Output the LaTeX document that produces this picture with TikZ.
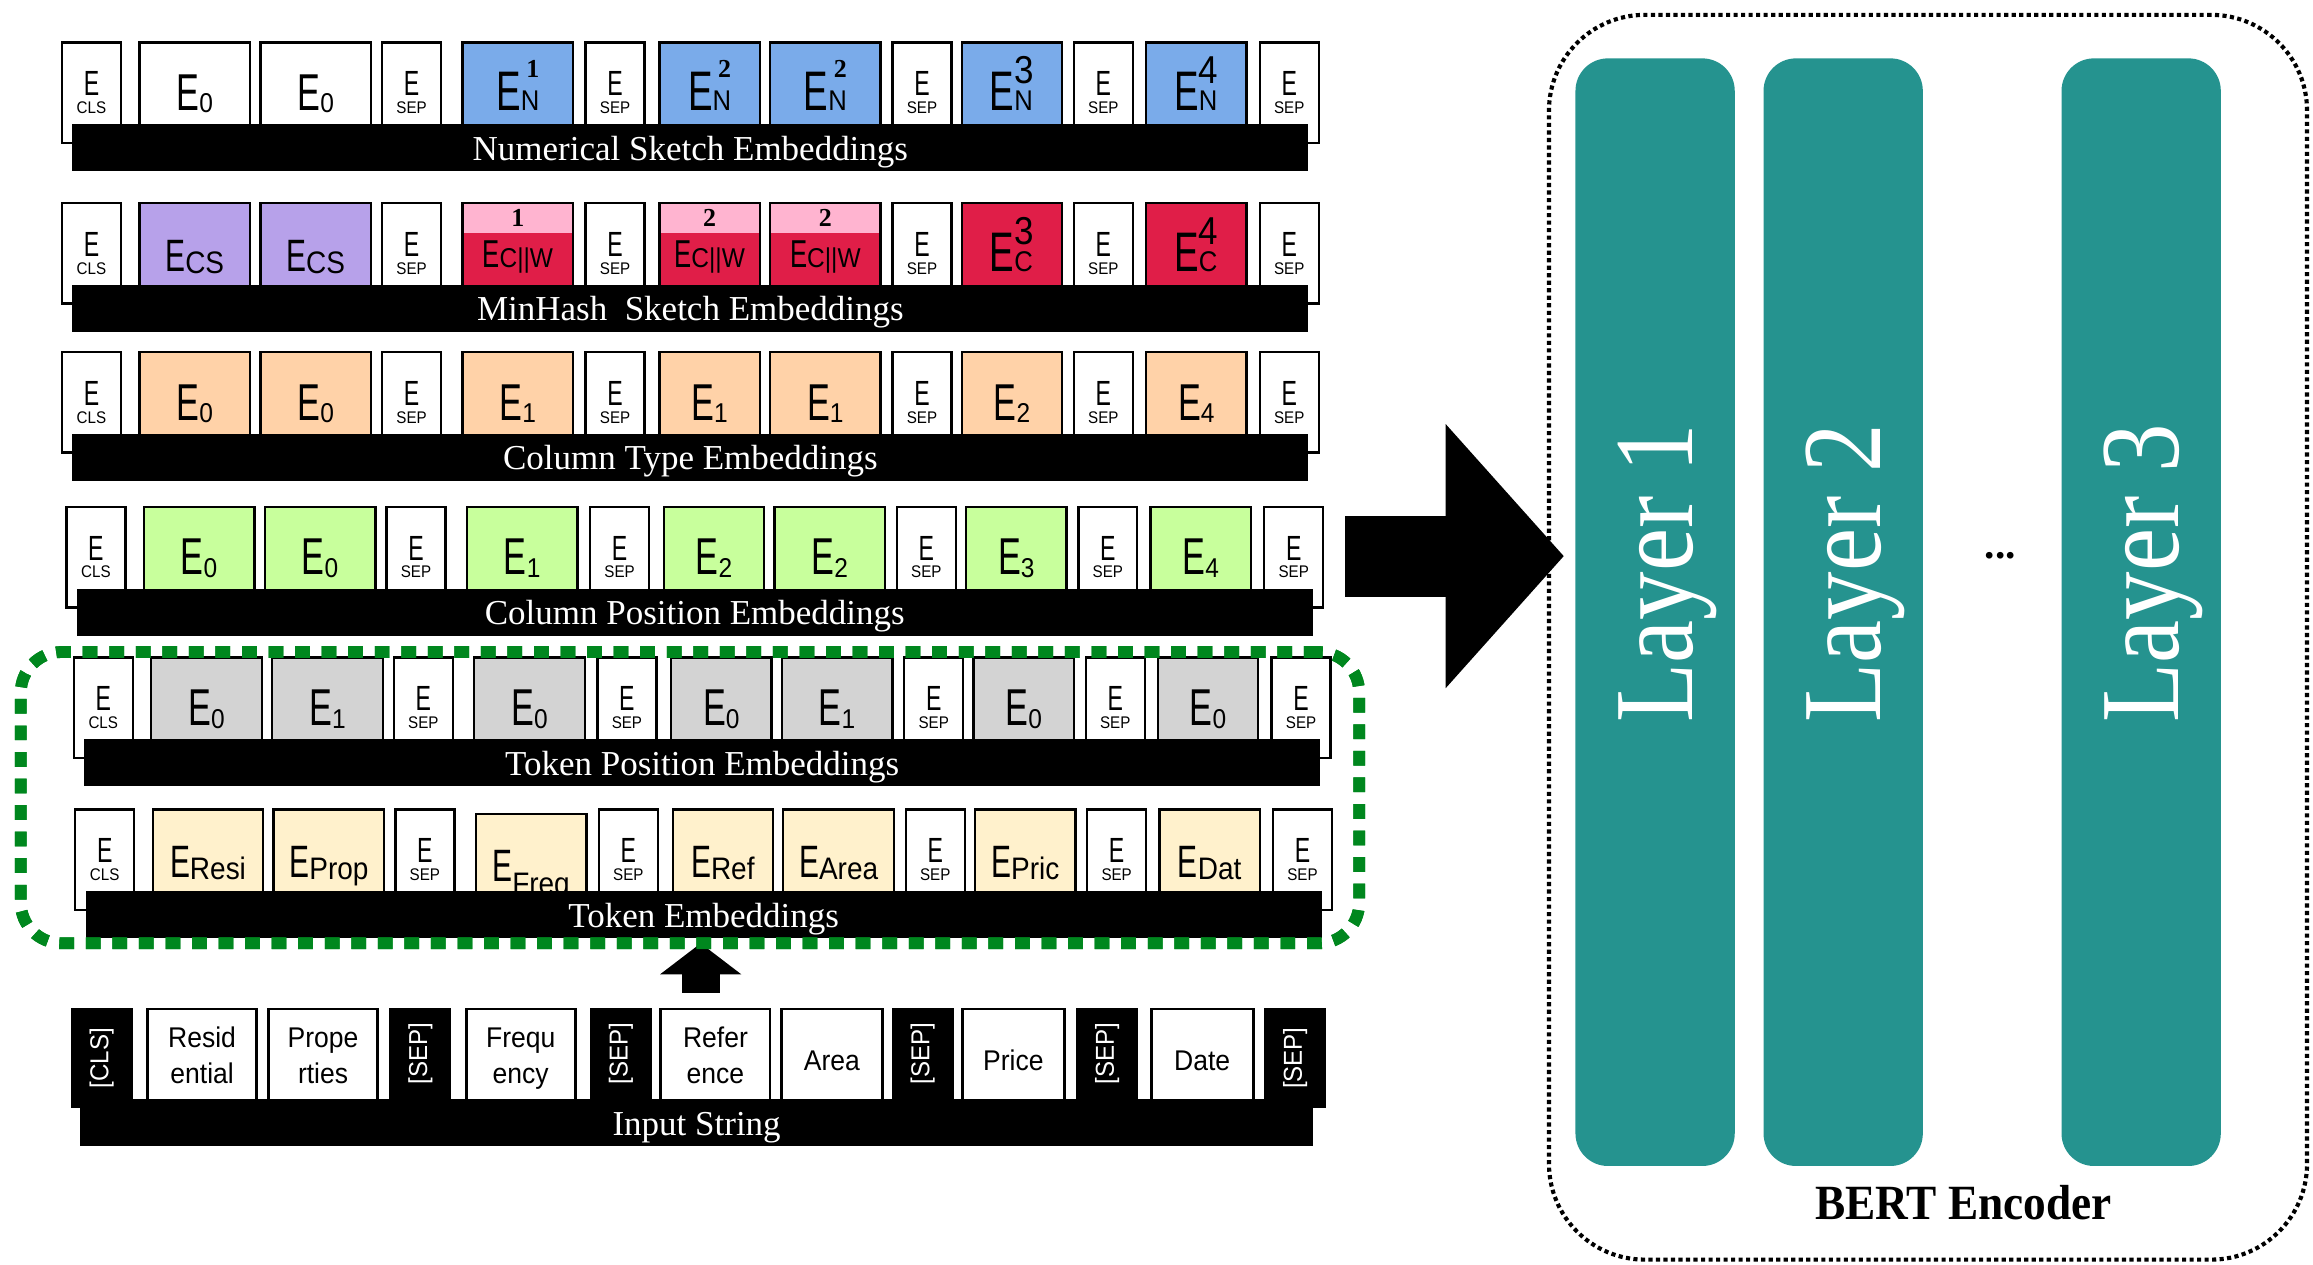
\documentclass[tikz,border=0pt]{standalone}
\usepackage{graphicx}
\usepackage{fontspec}
\setmainfont{Liberation Serif}
\newfontfamily\efont{Liberation Sans}[FakeStretch=0.66]
\newfontfamily\subfont{Liberation Sans}[FakeStretch=0.9]
\newfontfamily\inpfont{Liberation Sans}[FakeStretch=0.93]
\newfontfamily\bertfont{Liberation Serif}[FakeStretch=0.92]
\newfontfamily\layerfont{Liberation Serif}[FakeStretch=0.86]
\usetikzlibrary{arrows.meta, positioning}

\definecolor{numblue}{RGB}{122,171,234}
\definecolor{cspurple}{RGB}{183,161,234}
\definecolor{mhpink}{RGB}{255,180,208}
\definecolor{mhred}{RGB}{224,30,72}
\definecolor{typepeach}{RGB}{255,210,168}
\definecolor{poslime}{RGB}{200,255,156}
\definecolor{tokgrey}{RGB}{211,211,211}
\definecolor{tokcream}{RGB}{255,241,204}
\definecolor{grpgreen}{RGB}{0,135,30}
\definecolor{layerteal}{RGB}{37,147,143}

\newcommand{\tk}[1]{\makebox[0pt]{\raisebox{0.2cm}{\efont\fontsize{13.5}{13.5}\selectfont E}}\makebox[0pt]{\raisebox{-0.04cm}{\subfont\fontsize{6.5}{6.5}\selectfont #1}}}
\newcommand{\ee}[1]{{\efont\fontsize{20}{20}\selectfont E}\raisebox{-1pt}{\subfont\fontsize{10.5}{10.5}\selectfont #1}}
\newcommand{\et}[1]{{\efont\fontsize{17.5}{17.5}\selectfont E}\raisebox{-1pt}{\subfont\fontsize{12}{12}\selectfont #1}}
\newcommand{\etl}[1]{{\efont\fontsize{17.5}{17.5}\selectfont E}\raisebox{-5pt}{\subfont\fontsize{12}{12}\selectfont #1}}
\newcommand{\en}[2]{{\efont\fontsize{21.5}{21.5}\selectfont E}\ooalign{\hfil\raisebox{0.45cm}{\rmfamily\bfseries\fontsize{10}{10}\selectfont #2}\cr{\subfont\fontsize{11}{11}\selectfont #1}\cr}}
\newcommand{\ens}[2]{{\efont\fontsize{21.5}{21.5}\selectfont E}\ooalign{\hfil\raisebox{0.36cm}{\subfont\fontsize{15}{15}\selectfont #2}\cr{\subfont\fontsize{11}{11}\selectfont #1}\cr}}
\newcommand{\ecw}[1]{\ooalign{\hfil\raisebox{0.6cm}{\rmfamily\bfseries\fontsize{10}{10}\selectfont #1}\hfil\cr\raisebox{0.05cm}{{\efont\fontsize{15}{15}\selectfont E}{\subfont\fontsize{10.5}{10.5}\selectfont C\textbar\textbar W}}\cr}}

\begin{document}
\begin{tikzpicture}[
    x=0.02cm, y=-0.02cm,
    cell/.style={
        draw=black, line width=0.9pt, fill=white, anchor=north, minimum height=1.12cm,
        inner sep=1pt, text height=0.78cm, text depth=0.06cm
    },
    tall/.style={minimum height=1.36cm, text depth=0.3cm},
    nar/.style={cell, minimum width=0.8cm},
    wid/.style={cell, minimum width=1.5cm},
    mid/.style={cell, minimum width=1.36cm},
    split/.style={
        fill=mhred,
        path picture={\fill[mhpink] (path picture bounding box.north west) rectangle ([yshift=-0.4cm]path picture bounding box.north east);}
    },
    bar/.style={
        fill=black, text=white, minimum width=16.76cm, minimum height=0.64cm, inner sep=0pt,
        text height=0.34cm, text depth=0pt, font=\fontsize{13.5}{13.5}\selectfont
    },
    blk/.style={
        fill=black, text=white, anchor=north, minimum width=0.84cm, minimum height=1.24cm,
        inner sep=0pt, font=\inpfont\fontsize{10}{10}\selectfont
    },
    btall/.style={minimum height=1.36cm},
    inw/.style={
        draw=black, line width=1.1pt, fill=white, anchor=north, minimum width=1.48cm,
        minimum height=1.24cm, inner sep=1pt, align=center, text height=22pt, text depth=0pt,
        font=\inpfont\fontsize{11}{13.6}\selectfont
    },
    inm/.style={inw, minimum width=1.38cm, text height=12pt, text depth=0pt},
    grpbox/.style={
        draw=grpgreen, line width=0.16cm, dash pattern=on 0.2cm off 0.16cm, rounded corners=0.55cm,
        minimum width=18.15cm, minimum height=3.95cm, outer sep=0pt
    },
    bertbox/.style={
        draw=black, line width=1.6pt, dash pattern=on 1.6pt off 1.3pt, rounded corners=1.3cm,
        minimum width=10.28cm, minimum height=16.88cm, outer sep=0pt
    },
    layer/.style={
        fill=layerteal, rounded corners=0.44cm, minimum width=15.02cm, minimum height=2.16cm,
        rotate=90, text=white, inner sep=0pt, text height=1.02cm, text depth=0pt,
        font=\layerfont\fontsize{43.5}{43.5}\selectfont
    },
    bigarrow/.style={
        -{Triangle[width=3.58cm, length=1.6cm, line width=0pt]}, line width=1.1cm, black,
        shorten >=-0.2cm
    },
    uparrow/.style={
        -{Triangle[width=1.1cm, length=0.42cm, line width=0pt]}, line width=0.52cm, black
    }
]
\useasboundingbox (0,0) rectangle (1568,857);

\node[nar, tall] (num1) at (62,28) {\tk{CLS}};
\node[wid] (num2) at (132,28) {\ee{0}};
\node[wid] (num3) at (214,28) {\ee{0}};
\node[nar] (num4) at (279,28) {\tk{SEP}};
\node[wid, fill=numblue] (num5) at (351,28) {\en{N}{1}};
\node[nar] (num6) at (417,28) {\tk{SEP}};
\node[mid, fill=numblue] (num7) at (481,28) {\en{N}{2}};
\node[wid, fill=numblue] (num8) at (559.5,28) {\en{N}{2}};
\node[nar] (num9) at (625,28) {\tk{SEP}};
\node[mid, fill=numblue] (num10) at (686,28) {\ens{N}{3}};
\node[nar] (num11) at (748,28) {\tk{SEP}};
\node[mid, fill=numblue] (num12) at (811,28) {\ens{N}{4}};
\node[nar, tall] (num13) at (874,28) {\tk{SEP}};
\node[bar] (numbar) at (468,100) {Numerical Sketch Embeddings};

\node[nar, tall] (mh1) at (62,137) {\tk{CLS}};
\node[wid, fill=cspurple] (mh2) at (132,137) {\et{CS}};
\node[wid, fill=cspurple] (mh3) at (214,137) {\et{CS}};
\node[nar] (mh4) at (279,137) {\tk{SEP}};
\node[wid, split] (mh5) at (351,137) {\ecw{1}};
\node[nar] (mh6) at (417,137) {\tk{SEP}};
\node[mid, split] (mh7) at (481,137) {\ecw{2}};
\node[wid, split] (mh8) at (559.5,137) {\ecw{2}};
\node[nar] (mh9) at (625,137) {\tk{SEP}};
\node[mid, fill=mhred] (mh10) at (686,137) {\ens{C}{3}};
\node[nar] (mh11) at (748,137) {\tk{SEP}};
\node[mid, fill=mhred] (mh12) at (811,137) {\ens{C}{4}};
\node[nar, tall] (mh13) at (874,137) {\tk{SEP}};
\node[bar] (mhbar) at (468,209) {MinHash\ \ Sketch Embeddings};

\node[nar, tall] (ctype1) at (62,238) {\tk{CLS}};
\node[wid, fill=typepeach] (ctype2) at (132,238) {\ee{0}};
\node[wid, fill=typepeach] (ctype3) at (214,238) {\ee{0}};
\node[nar] (ctype4) at (279,238) {\tk{SEP}};
\node[wid, fill=typepeach] (ctype5) at (351,238) {\ee{1}};
\node[nar] (ctype6) at (417,238) {\tk{SEP}};
\node[mid, fill=typepeach] (ctype7) at (481,238) {\ee{1}};
\node[wid, fill=typepeach] (ctype8) at (559.5,238) {\ee{1}};
\node[nar] (ctype9) at (625,238) {\tk{SEP}};
\node[mid, fill=typepeach] (ctype10) at (686,238) {\ee{2}};
\node[nar] (ctype11) at (748,238) {\tk{SEP}};
\node[mid, fill=typepeach] (ctype12) at (811,238) {\ee{4}};
\node[nar, tall] (ctype13) at (874,238) {\tk{SEP}};
\node[bar] (ctypebar) at (468,310) {Column Type Embeddings};

\begin{scope}[xshift=0.06cm]
\node[nar, tall] (cpos1) at (62,343) {\tk{CLS}};
\node[wid, fill=poslime] (cpos2) at (132,343) {\ee{0}};
\node[wid, fill=poslime] (cpos3) at (214,343) {\ee{0}};
\node[nar] (cpos4) at (279,343) {\tk{SEP}};
\node[wid, fill=poslime] (cpos5) at (351,343) {\ee{1}};
\node[nar] (cpos6) at (417,343) {\tk{SEP}};
\node[mid, fill=poslime] (cpos7) at (481,343) {\ee{2}};
\node[wid, fill=poslime] (cpos8) at (559.5,343) {\ee{2}};
\node[nar] (cpos9) at (625,343) {\tk{SEP}};
\node[mid, fill=poslime] (cpos10) at (686,343) {\ee{3}};
\node[nar] (cpos11) at (748,343) {\tk{SEP}};
\node[mid, fill=poslime] (cpos12) at (811,343) {\ee{4}};
\node[nar, tall] (cpos13) at (874,343) {\tk{SEP}};
\node[bar] (cposbar) at (468,415) {Column Position Embeddings};
\end{scope}

\begin{scope}[xshift=0.16cm]
\node[nar, tall] (tpos1) at (62,445) {\tk{CLS}};
\node[wid, fill=tokgrey] (tpos2) at (132,445) {\ee{0}};
\node[wid, fill=tokgrey] (tpos3) at (214,445) {\ee{1}};
\node[nar] (tpos4) at (279,445) {\tk{SEP}};
\node[wid, fill=tokgrey] (tpos5) at (351,445) {\ee{0}};
\node[nar] (tpos6) at (417,445) {\tk{SEP}};
\node[mid, fill=tokgrey] (tpos7) at (481,445) {\ee{0}};
\node[wid, fill=tokgrey] (tpos8) at (559.5,445) {\ee{1}};
\node[nar] (tpos9) at (625,445) {\tk{SEP}};
\node[mid, fill=tokgrey] (tpos10) at (686,445) {\ee{0}};
\node[nar] (tpos11) at (748,445) {\tk{SEP}};
\node[mid, fill=tokgrey] (tpos12) at (811,445) {\ee{0}};
\node[nar, tall] (tpos13) at (874,445) {\tk{SEP}};
\node[bar] (tposbar) at (468,517) {Token Position Embeddings};
\end{scope}

\begin{scope}[xshift=0.18cm]
\node[nar, tall] (tok1) at (62,548) {\tk{CLS}};
\node[wid, fill=tokcream] (tok2) at (132,548) {\et{Resi}};
\node[wid, fill=tokcream] (tok3) at (214,548) {\et{Prop}};
\node[nar] (tok4) at (279,548) {\tk{SEP}};
\node[wid, fill=tokcream] (tok5) at (351,551) {\etl{Freq}};
\node[nar] (tok6) at (417,548) {\tk{SEP}};
\node[mid, fill=tokcream] (tok7) at (481,548) {\et{Ref}};
\node[wid, fill=tokcream] (tok8) at (559.5,548) {\et{Area}};
\node[nar] (tok9) at (625,548) {\tk{SEP}};
\node[mid, fill=tokcream] (tok10) at (686,548) {\et{Pric}};
\node[nar] (tok11) at (748,548) {\tk{SEP}};
\node[mid, fill=tokcream] (tok12) at (811,548) {\et{Dat}};
\node[nar, tall] (tok13) at (874,548) {\tk{SEP}};
\node[bar] (tokbar) at (468,620) {Token Embeddings};
\end{scope}

\node[blk, btall] (inp1) at (69,683) {\rotatebox{90}{[CLS]}};
\node[inw] (inp2) at (137,683) {Resid\\ential};
\node[inw] (inp3) at (219,683) {Prope\\rties};
\node[blk] (inp4) at (285,683) {\rotatebox{90}{[SEP]}};
\node[inw] (inp5) at (353,683) {Frequ\\ency};
\node[blk] (inp6) at (421,683) {\rotatebox{90}{[SEP]}};
\node[inw] (inp7) at (485,683) {Refer\\ence};
\node[inm] (inp8) at (564,683) {Area};
\node[blk] (inp9) at (625.5,683) {\rotatebox{90}{[SEP]}};
\node[inm] (inp10) at (687,683) {Price};
\node[blk] (inp11) at (750.5,683) {\rotatebox{90}{[SEP]}};
\node[inm] (inp12) at (815,683) {Date};
\node[blk, btall] (inp13) at (878,683) {\rotatebox{90}{[SEP]}};
\node[bar, minimum width=16.73cm] (inpbar) at (472.25,761) {Input String};

\node[grpbox] (tokgroup) at (467.75,540.75) {};
\coordinate (inpout) at (475,673);
\draw[uparrow] (inpout) -- (inpout |- tokgroup.south);
\node[grpbox] at (tokgroup) {};

\node[bertbox] (bert) at (1307,432) {};
\node[layer] (layer1) at (1122,415) {\hspace*{1.06cm}Layer 1};
\node[layer] (layer2) at (1249.5,415) {\hspace*{1.06cm}Layer 2};
\node[layer] (layer3) at (1451.5,415) {\hspace*{1.06cm}Layer 3};
\node[font=\bfseries\fontsize{16}{16}\selectfont] (dots) at (1356,377) {...};
\node[font=\bertfont\bfseries\fontsize{19}{19}\selectfont] (bertlbl) at (1331,815) {BERT Encoder};

\coordinate (embout) at (912,377);
\draw[bigarrow] (embout) -- (bert.west |- embout);

\end{tikzpicture}
\end{document}
